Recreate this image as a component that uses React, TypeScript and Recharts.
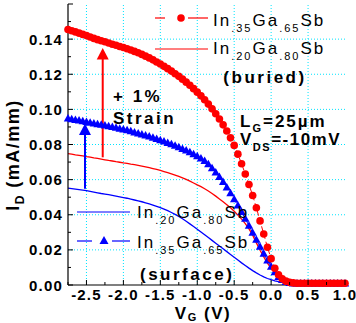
import React from 'react';
import { ComposedChart, Line, XAxis, YAxis, ReferenceLine, ReferenceDot } from 'recharts';

const FF = "'Liberation Sans', Arial, Helvetica, sans-serif";

const vg = [
  -2.75, -2.7, -2.65, -2.6, -2.55, -2.5, -2.45, -2.4, -2.35, -2.3,
  -2.25, -2.2, -2.15, -2.1, -2.05, -2.0, -1.95, -1.9, -1.85, -1.8,
  -1.75, -1.7, -1.65, -1.6, -1.55, -1.5, -1.45, -1.4, -1.35, -1.3,
  -1.25, -1.2, -1.15, -1.1, -1.05, -1.0, -0.95, -0.9, -0.85, -0.8,
  -0.75, -0.7, -0.65, -0.6, -0.55, -0.5, -0.45, -0.4, -0.35, -0.3,
  -0.25, -0.2, -0.15, -0.1, -0.05, 0.0, 0.05, 0.1, 0.15, 0.2,
  0.25, 0.3, 0.35, 0.4, 0.45, 0.5, 0.55, 0.6, 0.65, 0.7,
  0.75, 0.8, 0.85, 0.9, 0.95, 1.0,
];

// In.35Ga.65Sb (buried) - red circles
const r35 = [
  0.1455, 0.1448, 0.1441, 0.1434, 0.1427, 0.142, 0.1412, 0.1404, 0.1397, 0.1391,
  0.1385, 0.1378, 0.1371, 0.1365, 0.1358, 0.1352, 0.1345, 0.1338, 0.133, 0.1322,
  0.1313, 0.1303, 0.1293, 0.1282, 0.127, 0.1258, 0.1245, 0.1232, 0.1218, 0.1203,
  0.1188, 0.1172, 0.1155, 0.1137, 0.1118, 0.1098, 0.1077, 0.1055, 0.103, 0.1003,
  0.0975, 0.0945, 0.0912, 0.0877, 0.0838, 0.0795, 0.0745, 0.069, 0.0632, 0.0572,
  0.051, 0.044, 0.0365, 0.029, 0.0215, 0.015, 0.0095, 0.0058, 0.0035, 0.0022,
  0.0015, 0.0012, 0.001, 0.001, 0.001, 0.001, 0.001, 0.001, 0.001, 0.001,
  0.001, 0.001, 0.001, 0.001, 0.001, 0.001,
];

// In.20Ga.80Sb (buried) - red line
const r20 = [
  0.0748, 0.0745, 0.0741, 0.0738, 0.0735, 0.0731, 0.0728, 0.0724, 0.0721, 0.0717,
  0.0713, 0.0709, 0.0706, 0.0702, 0.0699, 0.0695, 0.0692, 0.0688, 0.0685, 0.0681,
  0.0677, 0.0673, 0.0668, 0.0663, 0.0658, 0.0652, 0.0646, 0.064, 0.0633, 0.0626,
  0.0618, 0.061, 0.0601, 0.0591, 0.0581, 0.057, 0.056, 0.0548, 0.0535, 0.0521,
  0.0506, 0.049, 0.0474, 0.0457, 0.044, 0.042, 0.0398, 0.0375, 0.035, 0.032,
  0.0284, 0.024, 0.0198, 0.016, 0.0125, 0.0095, 0.0069, 0.0048, 0.0032, 0.0021,
  0.0014, 0.0009, 0.0006, 0.0004, 0.0003, 0.0003, 0.0003, 0.0003, 0.0003, 0.0003,
  0.0003, 0.0003, 0.0003, 0.0003, 0.0003, 0.0003,
];

// In.35Ga.65Sb (surface) - blue triangles
const b35 = [
  0.0948, 0.0944, 0.094, 0.0936, 0.0932, 0.0928, 0.0924, 0.092, 0.0916, 0.0912,
  0.0908, 0.0904, 0.09, 0.0895, 0.089, 0.0886, 0.0881, 0.0875, 0.0869, 0.0863,
  0.0857, 0.0851, 0.0845, 0.0838, 0.0831, 0.0824, 0.0817, 0.0809, 0.0801, 0.0793,
  0.0784, 0.0775, 0.0766, 0.0756, 0.0745, 0.0733, 0.072, 0.0706, 0.0688, 0.0665,
  0.0641, 0.0615, 0.0586, 0.0555, 0.0522, 0.0488, 0.0452, 0.0415, 0.0377, 0.0338,
  0.0298, 0.0258, 0.0218, 0.0178, 0.014, 0.0104, 0.0072, 0.0046, 0.0028, 0.0017,
  0.0011, 0.0008, 0.0008, 0.0008, 0.0008, 0.0008, 0.0008, 0.0008, 0.0008, 0.0008,
  0.0008, 0.0008, 0.0008, 0.0008, 0.0008, 0.0008,
];

// In.20Ga.80Sb (surface) - blue line
const b20 = [
  0.0552, 0.0549, 0.0546, 0.0543, 0.054, 0.0537, 0.0533, 0.0529, 0.0525, 0.0521,
  0.0518, 0.0514, 0.051, 0.0506, 0.0502, 0.0498, 0.0494, 0.0489, 0.0484, 0.0479,
  0.0474, 0.0468, 0.0462, 0.0455, 0.0448, 0.044, 0.0432, 0.0423, 0.0413, 0.0402,
  0.039, 0.0377, 0.0363, 0.0348, 0.0333, 0.0318, 0.0302, 0.0286, 0.027, 0.0254,
  0.0238, 0.0222, 0.0206, 0.019, 0.0174, 0.0158, 0.0142, 0.0126, 0.0111, 0.0096,
  0.0082, 0.0069, 0.0057, 0.0046, 0.0037, 0.003, 0.0024, 0.0019, 0.0015, 0.0012,
  0.0009, 0.0007, 0.0005, 0.0004, 0.0004, 0.0004, 0.0004, 0.0004, 0.0004, 0.0004,
  0.0004, 0.0004, 0.0004, 0.0004, 0.0004, 0.0004,
];

const yTicks = [0, 0.01, 0.02, 0.03, 0.04, 0.05, 0.06, 0.07, 0.08, 0.09, 0.1, 0.11, 0.12, 0.13, 0.14, 0.15, 0.16];
const xTicks = [-2.75, -2.5, -2.25, -2.0, -1.75, -1.5, -1.25, -1.0, -0.75, -0.5, -0.25, 0, 0.25, 0.5, 0.75, 1.0];
const yGrid = [0.02, 0.04, 0.06, 0.08, 0.1, 0.12, 0.14];
const xGrid = [-2.5, -2.0, -1.5, -1.0, -0.5, 0, 0.5];

// strain arrows
const arrowV = [-2.28, -2.52];
const arrowFrom = [0.0727, 0.0548];
const arrowTo = [0.135, 0.092];
const arrowColor = ['#ff0000', '#0000ff'];

const RED = '#ff0000';
const BLUE = '#0000ff';
const GRID = '#00e4ff';

const rows = vg.map((v, i) => ({ v, r35: r35[i], r20: r20[i], b35: b35[i], b20: b20[i] }));

const isMajorY = (v: number) => Math.round(v * 100) % 2 === 0;
const isMajorX = (v: number) => Math.round(v * 4) % 2 === 0;

const LeftTick = (p: any) => {
  const v = p.payload.value;
  const major = isMajorY(v);
  const ax = p.x + 5;
  return (
    <g>
      <line x1={ax} x2={ax + (major ? 5 : 3)} y1={p.y} y2={p.y} stroke="#000" strokeWidth={1} />
      {major && v < 0.155 && (
        <text x={p.x} y={p.y} dy={5.5} textAnchor="end" fontFamily={FF} fontWeight="bold" fontSize={15} letterSpacing={1.2} fill="#000">
          {v.toFixed(2)}
        </text>
      )}
    </g>
  );
};

const RightTick = (p: any) => {
  const v = p.payload.value;
  const major = isMajorY(v);
  return <line x1={p.x} x2={p.x - (major ? 5 : 3)} y1={p.y} y2={p.y} stroke="#000" strokeWidth={1} />;
};

const BottomTick = (p: any) => {
  const v = p.payload.value;
  const major = isMajorX(v);
  const ay = p.y - 5;
  return (
    <g>
      <line x1={p.x} x2={p.x} y1={ay} y2={ay - (major ? 5 : 3)} stroke="#000" strokeWidth={1} />
      {major && (
        <text x={p.x} y={p.y} dy={10} textAnchor="middle" fontFamily={FF} fontWeight="bold" fontSize={15} letterSpacing={1.2} fill="#000">
          {v.toFixed(1)}
        </text>
      )}
    </g>
  );
};

const TopTick = (p: any) => {
  const v = p.payload.value;
  const major = isMajorX(v);
  return <line x1={p.x} x2={p.x} y1={p.y} y2={p.y + (major ? 5 : 3)} stroke="#000" strokeWidth={1} />;
};

const Tri = (p: any) => {
  const { cx, cy, index } = p;
  if (cx == null || cy == null) return <g key={index} />;
  return (
    <polygon key={index} points={`${cx},${cy - 4.5} ${cx - 4.2},${cy + 3} ${cx + 4.2},${cy + 3}`} fill={BLUE} stroke="none" />
  );
};

const Head = (color: string) => (p: any) => {
  const { cx, cy } = p;
  return <polygon points={`${cx},${cy} ${cx - 6},${cy + 11.5} ${cx + 6},${cy + 11.5}`} fill={color} stroke="none" />;
};

const Chem = ({ x, y, a, b }: { x: number; y: number; a: string; b: string }) => (
  <text x={x} y={y} fontFamily={FF} fontSize={17} letterSpacing={2} fill="#000">
    In
    <tspan fontSize={11} dy={6}>{a}</tspan>
    <tspan dy={-6}>Ga</tspan>
    <tspan fontSize={11} dy={6}>{b}</tspan>
    <tspan dy={-6}>Sb</tspan>
  </text>
);

const bold = { fontFamily: FF, fontWeight: 'bold' as const, fill: '#000' };

export default function App() {
  return (
    <div style={{ position: 'absolute', left: 0, top: 0, width: 356, height: 323, background: '#fff' }}>
      <ComposedChart width={356} height={323} data={rows} margin={{ top: 4, right: 11, left: 0, bottom: 0 }}>
        <XAxis
          dataKey="v"
          type="number"
          domain={[-2.75, 1.0]}
          ticks={xTicks}
          interval={0}
          height={38}
          tickSize={0}
          tickMargin={5}
          tickLine={false}
          axisLine={{ stroke: '#000', strokeWidth: 1.2 }}
          tick={<BottomTick />}
        />
        <XAxis
          xAxisId="top"
          orientation="top"
          dataKey="v"
          type="number"
          domain={[-2.75, 1.0]}
          ticks={xTicks}
          interval={0}
          height={0}
          tickSize={0}
          tickMargin={0}
          tickLine={false}
          axisLine={{ stroke: '#000', strokeWidth: 1.2 }}
          tick={<TopTick />}
        />
        <YAxis
          type="number"
          domain={[0, 0.16]}
          ticks={yTicks}
          interval={0}
          width={68}
          tickSize={0}
          tickMargin={5}
          tickLine={false}
          axisLine={{ stroke: '#000', strokeWidth: 1.2 }}
          tick={<LeftTick />}
        />
        <YAxis
          yAxisId="right"
          orientation="right"
          type="number"
          domain={[0, 0.16]}
          ticks={yTicks}
          interval={0}
          width={0}
          tickSize={0}
          tickMargin={0}
          tickLine={false}
          axisLine={{ stroke: '#000', strokeWidth: 1.2 }}
          tick={<RightTick />}
        />
        {yGrid.map((g) => (
          <ReferenceLine key={'gy' + g} y={g} stroke={GRID} strokeDasharray="1 2" strokeWidth={1} />
        ))}
        {xGrid.map((g) => (
          <ReferenceLine key={'gx' + g} x={g} stroke={GRID} strokeDasharray="1 2" strokeWidth={1} />
        ))}
        <Line type="linear" dataKey="r20" stroke={RED} strokeWidth={1.3} dot={false} isAnimationActive={false} />
        <Line type="linear" dataKey="b20" stroke={BLUE} strokeWidth={1.3} dot={false} isAnimationActive={false} />
        <Line type="linear" dataKey="b35" stroke={BLUE} strokeWidth={1} strokeDasharray="5 3" dot={<Tri />} isAnimationActive={false} />
        <Line type="linear" dataKey="r35" stroke={RED} strokeWidth={1} strokeDasharray="5 3" dot={{ r: 3.8, fill: RED, stroke: 'none' }} isAnimationActive={false} />
        {arrowV.map((v, i) => (
          <ReferenceLine
            key={'as' + i}
            segment={[{ x: v, y: arrowFrom[i] }, { x: v, y: arrowTo[i] - 0.004 }]}
            stroke={arrowColor[i]}
            strokeWidth={2}
          />
        ))}
        {arrowV.map((v, i) => (
          <ReferenceDot key={'ah' + i} x={v} y={arrowTo[i]} r={6} shape={Head(arrowColor[i])} />
        ))}
      </ComposedChart>
      <svg width={356} height={323} style={{ position: 'absolute', left: 0, top: 0, pointerEvents: 'none' }}>
        {/* legend top (buried) */}
        <line x1={155} x2={165} y1={18} y2={18} stroke={RED} strokeWidth={1.2} />
        <circle cx={181} cy={18} r={3.8} fill={RED} />
        <line x1={188} x2={208} y1={18} y2={18} stroke={RED} strokeWidth={1.2} />
        <Chem x={213} y={26} a=".35" b=".65" />
        <line x1={155} x2={208} y1={49} y2={49} stroke={RED} strokeWidth={1.2} />
        <Chem x={213} y={54} a=".20" b=".80" />
        <text x={265} y={83} textAnchor="middle" fontSize={17} letterSpacing={2.5} {...bold}>(buried)</text>

        <text x={240} y={127} fontSize={17} letterSpacing={2} {...bold}>
          L<tspan fontSize={11} dy={5}>G</tspan><tspan dy={-5}>=25</tspan><tspan>µm</tspan>
        </text>
        <text x={240} y={145} fontSize={17} letterSpacing={1.5} {...bold}>
          V<tspan fontSize={11} dy={6}>DS</tspan><tspan dy={-6}>=-10mV</tspan>
        </text>

        <text x={113} y={102} fontSize={17} letterSpacing={2.5} {...bold}>+ 1%</text>
        <text x={113} y={124} fontSize={17} letterSpacing={2.5} {...bold}>Strain</text>

        {/* legend bottom (surface) */}
        <line x1={77} x2={130} y1={212} y2={212} stroke={BLUE} strokeWidth={1.2} />
        <Chem x={137} y={218} a=".20" b=".80" />
        <line x1={77} x2={92} y1={241} y2={241} stroke={BLUE} strokeWidth={1.2} />
        <polygon points="104,236 99.5,244 108.5,244" fill={BLUE} />
        <line x1={112} x2={130} y1={241} y2={241} stroke={BLUE} strokeWidth={1.2} />
        <Chem x={137} y={248} a=".35" b=".65" />
        <text x={140} y={280} fontSize={17} letterSpacing={2.5} {...bold}>(surface)</text>

        {/* axis titles */}
        <text transform="translate(19,155) rotate(-90)" textAnchor="middle" fontSize={18} letterSpacing={1.5} {...bold}>
          I<tspan fontSize={12} dy={5}>D</tspan><tspan dy={-5}> (mA/mm)</tspan>
        </text>
        <text x={203} y={318.5} textAnchor="middle" fontSize={17} letterSpacing={1.5} {...bold}>
          V<tspan fontSize={11} dy={2.5}>G</tspan><tspan dy={-2.5}> (V)</tspan>
        </text>
      </svg>
    </div>
  );
}
